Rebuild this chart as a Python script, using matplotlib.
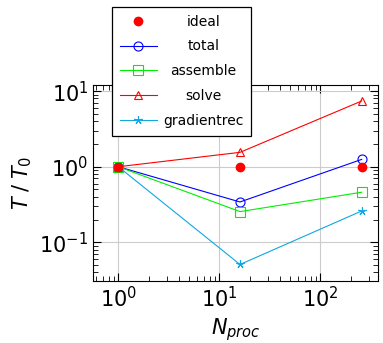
import numpy as np
import matplotlib
matplotlib.use('Agg')
import matplotlib.pyplot as plt
from matplotlib.ticker import LogLocator, NullFormatter

plt.rcParams['mathtext.fontset'] = 'dejavusans'

nproc = [1, 16, 256]
ideal = [1.0, 1.0, 1.0]
total = [1.0, 0.342, 1.25]
assemble = [1.0, 0.255, 0.46]
solve = [1.0, 1.55, 7.4]
gradientrec = [1.0, 0.051, 0.26]

fig = plt.figure(figsize=(3.83, 3.43), dpi=100)
ax = fig.add_axes([0.243, 0.181, 0.744, 0.571])

ax.plot(nproc, ideal, 'o', color='red', ms=6, label='ideal', zorder=3)
ax.plot(nproc, total, '-o', color='blue', lw=0.8, ms=6.5, mfc='none', mew=0.8, label='total')
ax.plot(nproc, assemble, '-s', color='#00ee00', lw=0.8, ms=6.5, mfc='none', mew=0.8, label='assemble')
ax.plot(nproc, solve, '-^', color='red', lw=0.8, ms=5.5, mfc='none', mew=0.8, label='solve')
ax.plot(nproc, gradientrec, '-', marker=(5, 2, 0), color='#10a8e0', lw=0.8, ms=6, mew=0.8,
        label='gradientrec')

ax.set_xscale('log')
ax.set_yscale('log')
ax.set_xlim(10**-0.25, 10**2.57)
ax.set_ylim(10**-1.51, 10**1.08)

ax.xaxis.set_minor_locator(LogLocator(base=10, subs=np.arange(2, 10)))
ax.yaxis.set_minor_locator(LogLocator(base=10, subs=np.arange(2, 10)))
ax.xaxis.set_minor_formatter(NullFormatter())
ax.yaxis.set_minor_formatter(NullFormatter())
ax.tick_params(which='both', direction='in', top=True, right=True, labelsize=15)
ax.tick_params(which='major', length=6, width=0.8)
ax.tick_params(which='minor', length=3.5, width=0.6)
ax.grid(True, which='major', color='#cccccc', lw=0.8)
ax.set_axisbelow(True)

ax.set_xlabel(r'$N_{proc}$', fontsize=15)
ax.set_ylabel(r'$T\;/\;T_0$', fontsize=15)

leg = ax.legend(loc='upper left', bbox_to_anchor=(112 / 383, 1 - 7 / 343),
                bbox_transform=fig.transFigure, borderaxespad=0, fontsize=10,
                fancybox=False, edgecolor='black', framealpha=1,
                handlelength=2.7, handletextpad=0.45, borderpad=0.55, labelspacing=0.78)
leg.get_frame().set_linewidth(0.9)
leg.set_zorder(10)
r = fig.canvas.get_renderer()
widths = [t.get_window_extent(r).width for t in leg.get_texts()]
for t, w in zip(leg.get_texts(), widths):
    t.set_position(((max(widths) - w) / 2, 0))

fig.savefig('out.png', dpi=100)
